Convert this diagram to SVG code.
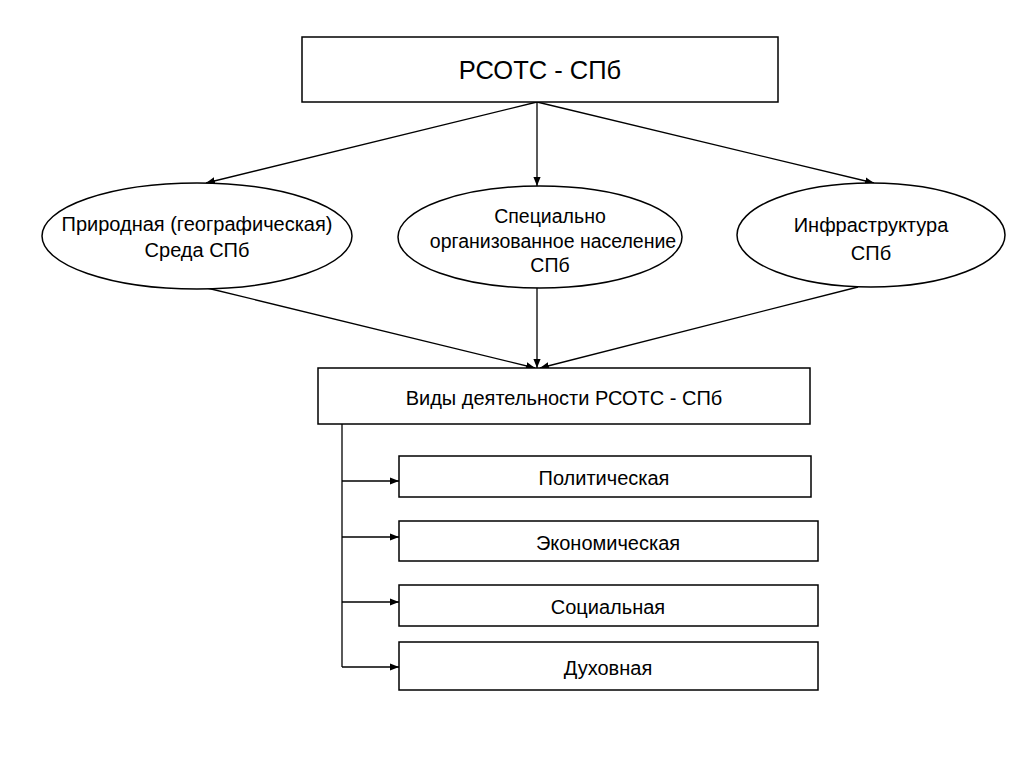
<svg xmlns="http://www.w3.org/2000/svg" width="1024" height="768" viewBox="0 0 1024 768">
<style>
.box{fill:#fff;stroke:#000;stroke-width:1.5}
.t{font-family:"Liberation Sans",Arial,sans-serif;fill:#000;text-anchor:middle}
.s{font-size:20px}
.m{font-size:19.5px}
.c{fill:none;stroke:#000;stroke-width:1.3}
</style>
<defs>
<marker id="a" viewBox="0 0 10 10" refX="10" refY="5" markerWidth="9" markerHeight="9" markerUnits="userSpaceOnUse" orient="auto">
<path d="M0,1 L10,5 L0,9 Z" fill="#000"/>
</marker>
</defs>
<rect width="1024" height="768" fill="#fff"/>
<g id="connectors">
<line class="c" x1="537" y1="102" x2="206" y2="183" marker-end="url(#a)"/>
<line class="c" x1="537" y1="102" x2="537" y2="186" marker-end="url(#a)"/>
<line class="c" x1="537" y1="102" x2="874" y2="183" marker-end="url(#a)"/>
<line class="c" x1="207" y1="288" x2="535" y2="368" marker-end="url(#a)"/>
<line class="c" x1="537" y1="287" x2="537" y2="368" marker-end="url(#a)"/>
<line class="c" x1="858" y1="287" x2="540" y2="368" marker-end="url(#a)"/>
<polyline class="c" points="342,424 342,667"/>
<line class="c" x1="342" y1="481" x2="399" y2="481" marker-end="url(#a)"/>
<line class="c" x1="342" y1="537" x2="399" y2="537" marker-end="url(#a)"/>
<line class="c" x1="342" y1="602" x2="399" y2="602" marker-end="url(#a)"/>
<line class="c" x1="342" y1="667" x2="399" y2="667" marker-end="url(#a)"/>
</g>
<g id="root">
<rect class="box" x="302" y="37" width="476" height="65"/>
<text class="t" x="540" y="79" font-size="25.5">РСОТС - СПб</text>
</g>
<g id="nature">
<ellipse class="box" cx="197" cy="236" rx="155" ry="53"/>
<text class="t s" x="197" y="231">Природная (географическая)</text>
<text class="t s" x="197" y="257">Среда СПб</text>
</g>
<g id="population">
<ellipse class="box" cx="540" cy="237" rx="142" ry="51"/>
<text class="t m" x="550" y="223">Специально</text>
<text class="t m" x="553" y="248">организованное население</text>
<text class="t m" x="550" y="272">СПб</text>
</g>
<g id="infra">
<ellipse class="box" cx="871" cy="235" rx="134" ry="52"/>
<text class="t s" x="871" y="232">Инфраструктура</text>
<text class="t s" x="871" y="260">СПб</text>
</g>
<g id="activities">
<rect class="box" x="318" y="368" width="492" height="56"/>
<text class="t s" x="564" y="405">Виды деятельности РСОТС - СПб</text>
</g>
<g id="political">
<rect class="box" x="399" y="456" width="412" height="41"/>
<text class="t s" x="604" y="485">Политическая</text>
</g>
<g id="economic">
<rect class="box" x="399" y="521" width="419" height="40"/>
<text class="t s" x="608" y="550">Экономическая</text>
</g>
<g id="social">
<rect class="box" x="399" y="585" width="419" height="41"/>
<text class="t s" x="608" y="614">Социальная</text>
</g>
<g id="spiritual">
<rect class="box" x="399" y="642" width="419" height="48"/>
<text class="t s" x="608" y="675">Духовная</text>
</g>
</svg>
